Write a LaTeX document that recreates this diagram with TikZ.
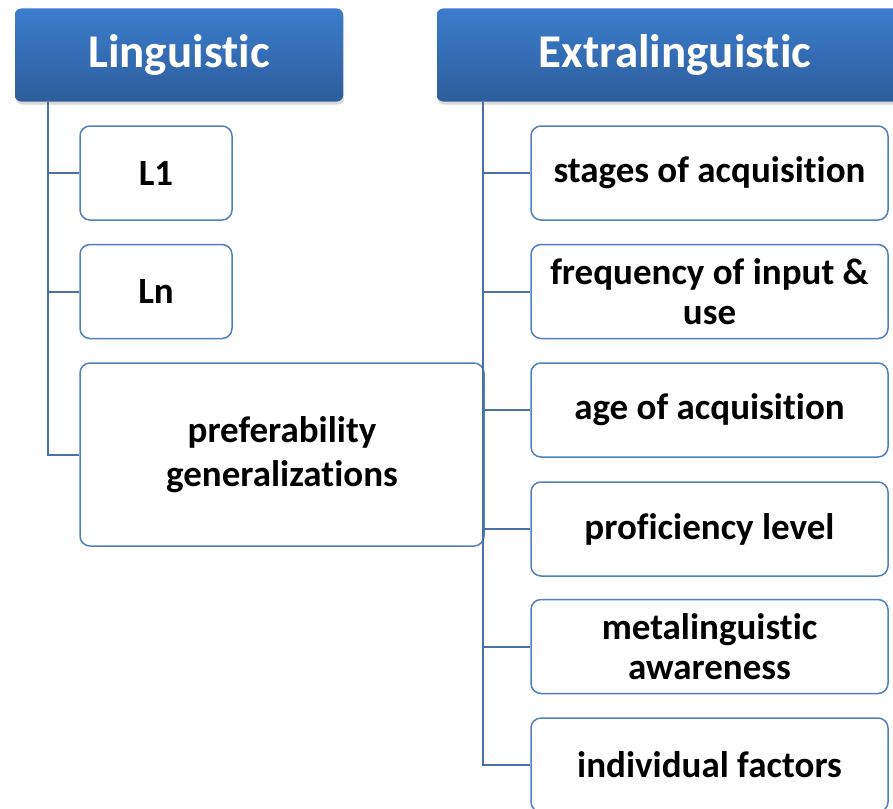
\documentclass[tikz,border=0pt]{standalone}
\usepackage{fontspec}
\setmainfont{Carlito}[Ligatures={NoCommon}]
\usepackage{tikz}
\usetikzlibrary{calc,positioning,shadows}

\definecolor{headtop}{HTML}{3C7DCC}
\definecolor{headbot}{HTML}{2D5D9C}
\definecolor{boxline}{HTML}{4F81BD}
\definecolor{linkline}{HTML}{4A70A4}

\begin{document}
\begin{tikzpicture}[
  x=1pt,y=-1pt,
  head/.style={rounded corners=6pt,top color=headtop,bottom color=headbot,
    draw=none,text=white,font=\fontsize{47}{50}\selectfont\bfseries,
    drop shadow={shadow xshift=1pt,shadow yshift=-3pt,opacity=0.3},
    minimum height=93pt,inner sep=0pt},
  item/.style={draw=boxline,line width=1.5pt,rounded corners=10pt,fill=white,
    font=\fontsize{37}{40}\selectfont\bfseries,align=center,
    minimum height=94pt,inner sep=0pt},
  link/.style={draw=linkline,line width=2pt}
]
  \clip (0,0) rectangle (893,808);

  % Headers
  \node[head,minimum width=328pt] (lhead) at (179,55) {Linguistic};
  \node[head,minimum width=476pt] (ehead) at (675,55) {Extralinguistic};

  % Linguistic branch
  \node[item,minimum width=152pt] (l1) at (156,173) {L1};
  \node[item,minimum width=152pt] (ln) at (156,291.5) {Ln};
  \node[item,minimum width=404pt,minimum height=183pt] (pref) at (282,454.5)
    {preferability\\[4pt]generalizations};

  \coordinate (ltop) at ([xshift=33pt]lhead.south west);
  \draw[link] (ltop) |- (l1.west);
  \draw[link] (ltop) |- (ln.west);
  \draw[link] (ltop) |- (pref.west);

  % Extralinguistic branch
  \node[item,minimum width=357pt] (stage) at (709.5,173) {stages of acquisition};
  \node[item,minimum width=357pt] (freq) at (709.5,291.5) {frequency of input \&\\use};
  \node[item,minimum width=357pt] (age) at (709.5,410) {age of acquisition};
  \node[item,minimum width=357pt] (prof) at (709.5,529) {proficiency level};
  \node[item,minimum width=357pt] (meta) at (709.5,646.5) {metalinguistic\\awareness};
  \node[item,minimum width=357pt] (indiv) at (709.5,765) {individual factors};

  \coordinate (etop) at ([xshift=46pt]ehead.south west);
  \foreach \n in {stage,freq,age,prof,meta,indiv}
    \draw[link] (etop) |- (\n.west);
\end{tikzpicture}
\end{document}
